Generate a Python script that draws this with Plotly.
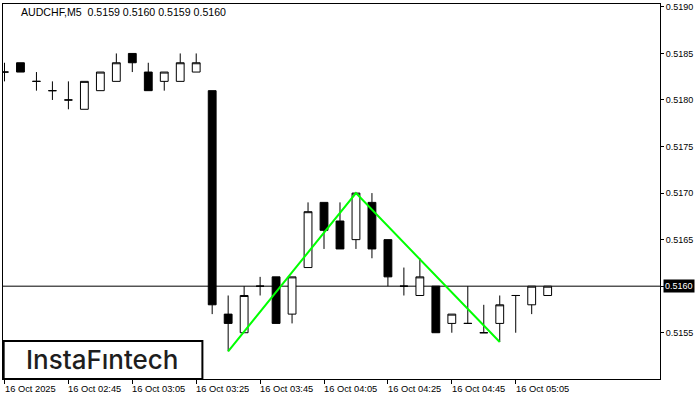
import plotly.graph_objects as go

# ---- data ----
candle_idx = list(range(35))
opens  = [0.5183, 0.5184, 0.5182, 0.5181, 0.5180, 0.5179, 0.5181, 0.5182, 0.5185, 0.5183,
          0.5182, 0.5182, 0.5183, 0.5181, 0.5157, 0.5155, 0.5160, 0.5161, 0.5157, 0.5162,
          0.5169, 0.5167, 0.5165, 0.5169, 0.5165, 0.5160, 0.5159, 0.5160, 0.5156, 0.5156,
          0.5155, 0.5156, 0.5159, 0.5158, 0.5159]
highs  = [0.5184, 0.5184, 0.5183, 0.5182, 0.5182, 0.5182, 0.5183, 0.5185, 0.5185, 0.5184,
          0.5183, 0.5185, 0.5185, 0.5181, 0.5159, 0.5160, 0.5161, 0.5161, 0.5161, 0.5169,
          0.5169, 0.5169, 0.5170, 0.5170, 0.5165, 0.5162, 0.5163, 0.5160, 0.5157, 0.5160,
          0.5158, 0.5159, 0.5159, 0.5160, 0.5160]
lows   = [0.5182, 0.5183, 0.5181, 0.5180, 0.5179, 0.5179, 0.5181, 0.5182, 0.5183, 0.5181,
          0.5181, 0.5182, 0.5183, 0.5157, 0.5153, 0.5155, 0.5159, 0.5156, 0.5156, 0.5162,
          0.5164, 0.5164, 0.5164, 0.5163, 0.5160, 0.5159, 0.5159, 0.5155, 0.5155, 0.5156,
          0.5155, 0.5154, 0.5155, 0.5157, 0.5159]
closes = [0.5183, 0.5183, 0.5182, 0.5181, 0.5180, 0.5182, 0.5183, 0.5184, 0.5184, 0.5181,
          0.5183, 0.5184, 0.5184, 0.5158, 0.5156, 0.5159, 0.5160, 0.5156, 0.5161, 0.5168,
          0.5166, 0.5164, 0.5170, 0.5164, 0.5161, 0.5160, 0.5161, 0.5155, 0.5157, 0.5156,
          0.5155, 0.5158, 0.5159, 0.5160, 0.5160]

time_tick_idx = [0, 4, 8, 12, 16, 20, 24, 28, 32]
time_tick_labels = ["16 Oct 2025", "16 Oct 02:45", "16 Oct 03:05", "16 Oct 03:25",
                    "16 Oct 03:45", "16 Oct 04:05", "16 Oct 04:25", "16 Oct 04:45",
                    "16 Oct 05:05"]
price_ticks = [0.5155, 0.5160, 0.5165, 0.5170, 0.5175, 0.5180, 0.5185, 0.5190]

pattern_x = [14, 22, 31]
pattern_y = [0.5153, 0.5170, 0.5154]

symbol = "AUDCHF,M5"
last_price = closes[-1]

fig = go.Figure()
fig.add_trace(go.Candlestick(
    x=candle_idx, open=opens, high=highs, low=lows, close=closes,
    increasing=dict(fillcolor="white", line=dict(color="black", width=1)),
    decreasing=dict(fillcolor="black", line=dict(color="black", width=1)),
    hoverinfo="skip", showlegend=False,
))
fig.add_trace(go.Scatter(
    x=pattern_x, y=pattern_y, mode="lines",
    line=dict(color="#00ff00", width=2), hoverinfo="skip", showlegend=False,
))

FONT = "Liberation Sans"
annotations = []
for xv, lab in zip(time_tick_idx, time_tick_labels):
    annotations.append(dict(x=xv, y=0, xref="x", yref="paper", text=lab,
                            xanchor="left", yanchor="top", yshift=-3, xshift=-2,
                            showarrow=False, font=dict(family=FONT, size=9.3, color="black")))
annotations.append(dict(x=0.024, y=0.979, xref="paper", yref="paper",
                        text=f"{symbol}\u00a0 {opens[-1]:.4f} {highs[-1]:.4f} {lows[-1]:.4f} {closes[-1]:.4f}",
                        xanchor="left", yanchor="middle", showarrow=False,
                        font=dict(family=FONT, size=10.6, color="black")))
annotations.append(dict(x=1, y=last_price, xref="paper", yref="y", text=f"{last_price:.4f}",
                        xanchor="left", yanchor="middle", xshift=3, showarrow=False,
                        bgcolor="black", borderpad=1,
                        font=dict(family=FONT, size=9, color="white")))
annotations.append(dict(x=0.152, y=0.051, xref="paper", yref="paper", text="InstaFıntech",
                        xanchor="center", yanchor="middle", showarrow=False,
                        font=dict(family="Inter", size=26, weight=500, color="#1e1e1e")))

shapes = [
    dict(type="line", xref="paper", yref="y", x0=0, x1=1, y0=last_price, y1=last_price,
         line=dict(color="black", width=1), layer="below"),
    dict(type="rect", xref="paper", yref="paper", x0=0.001, x1=0.3035, y0=0.0, y1=0.1016,
         line=dict(color="black", width=2), fillcolor="white", layer="above"),
]

fig.update_layout(
    width=700, height=400,
    margin=dict(l=2, r=40, t=2, b=21),
    paper_bgcolor="white", plot_bgcolor="white",
    showlegend=False,
    annotations=annotations, shapes=shapes,
    xaxis=dict(range=[-0.09375, 41.03125], rangeslider=dict(visible=False),
               showgrid=False, zeroline=False, showline=True, mirror=True,
               linecolor="black", linewidth=1,
               tickmode="array", tickvals=time_tick_idx, ticktext=[""] * len(time_tick_idx),
               ticks="outside", ticklen=4, tickcolor="black", showticklabels=False),
    yaxis=dict(range=[0.515003, 0.519031], side="right",
               showgrid=False, zeroline=False, showline=True, mirror=True,
               linecolor="black", linewidth=1,
               tickmode="array", tickvals=price_ticks,
               ticktext=[f"{v:.4f}" for v in price_ticks],
               ticks="outside", ticklen=3, tickcolor="black",
               tickfont=dict(family=FONT, size=9, color="black")),
)

fig.write_html("out.html", config={"displayModeBar": False},
               post_script="document.body.style.margin='0';document.body.style.overflow='hidden';")
